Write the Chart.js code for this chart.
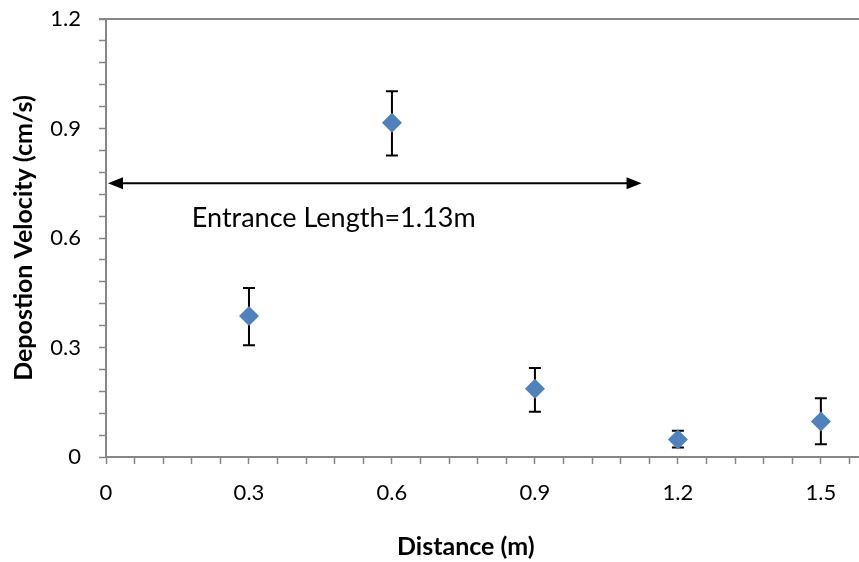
<!DOCTYPE html>
<html>
<head>
<meta charset="utf-8">
<script src="https://cdn.jsdelivr.net/npm/chart.js@4"></script>
<style>
  html, body { margin: 0; padding: 0; background: #fff; }
  #wrap { width: 859px; height: 562px; }
</style>
</head>
<body>
<div id="wrap"><canvas id="depChart"></canvas></div>
<script>
// data
const distances = [0.3, 0.6, 0.9, 1.2, 1.5];
const velocity = [0.386, 0.916, 0.187, 0.048, 0.097];
const errUpper = [0.463, 1.002, 0.244, 0.072, 0.161];
const errLower = [0.306, 0.826, 0.124, 0.026, 0.035];

const xMajorTicks = [0, 0.3, 0.6, 0.9, 1.2, 1.5];
const yMajorTicks = [0, 0.3, 0.6, 0.9, 1.2];
const minorStep = 0.06;

const entranceLength = 1.13;
const arrowLevel = 0.75;
const noteText = 'Entrance Length=1.13m';
const xTitle = 'Distance (m)';

const axisGrey = '#868686';
const fontName = 'Lato';

function isMajor(v, majors) {
  return majors.some(m => Math.abs(m - v) < 1e-6);
}
function minorTicks(limit) {
  const out = [];
  for (let i = 0; i * minorStep <= limit + 1e-9; i++) out.push({ value: +(i * minorStep).toFixed(2) });
  return out;
}

const extras = {
  id: 'extras',
  beforeDatasetsDraw(chart) {
    const { ctx, scales: { x, y } } = chart;
    ctx.save();
    ctx.strokeStyle = '#000';
    ctx.lineWidth = 2;
    distances.forEach((d, i) => {
      const px = x.getPixelForValue(d);
      const top = y.getPixelForValue(errUpper[i]);
      const bot = y.getPixelForValue(errLower[i]);
      ctx.beginPath();
      ctx.moveTo(px, top); ctx.lineTo(px, bot);
      ctx.moveTo(px - 6, top); ctx.lineTo(px + 6, top);
      ctx.moveTo(px - 6, bot); ctx.lineTo(px + 6, bot);
      ctx.stroke();
    });
    ctx.restore();
  },
  afterDraw(chart) {
    const { ctx, chartArea, scales: { x, y } } = chart;
    ctx.save();
    // top border of plot area
    ctx.strokeStyle = axisGrey;
    ctx.lineWidth = 2;
    const ty = y.getPixelForValue(1.2);
    ctx.beginPath();
    ctx.moveTo(chartArea.left - 7, ty);
    ctx.lineTo(chartArea.right, ty);
    ctx.stroke();

    // double-headed arrow
    const x0 = x.getPixelForValue(0) + 2;
    const x1 = x.getPixelForValue(entranceLength) - 3;
    const ay = y.getPixelForValue(arrowLevel);
    ctx.strokeStyle = '#000';
    ctx.fillStyle = '#000';
    ctx.lineWidth = 2;
    ctx.beginPath();
    ctx.moveTo(x0 + 10, ay); ctx.lineTo(x1 - 10, ay);
    ctx.stroke();
    ctx.beginPath();
    ctx.moveTo(x0, ay); ctx.lineTo(x0 + 15, ay - 6); ctx.lineTo(x0 + 15, ay + 6); ctx.closePath();
    ctx.fill();
    ctx.beginPath();
    ctx.moveTo(x1, ay); ctx.lineTo(x1 - 15, ay - 6); ctx.lineTo(x1 - 15, ay + 6); ctx.closePath();
    ctx.fill();

    ctx.textBaseline = 'middle';
    ctx.textAlign = 'left';
    ctx.font = '27px ' + fontName;
    ctx.fillText(noteText, x.getPixelForValue(0.18), y.getPixelForValue(0.655));

    // x axis title, centred as in the original
    ctx.textAlign = 'center';
    ctx.font = 'bold 25px ' + fontName;
    ctx.fillText(xTitle, x.getPixelForValue(0.755), chart.height - 15);
    ctx.restore();
  }
};

new Chart(document.getElementById('depChart'), {
  type: 'scatter',
  data: {
    datasets: [{
      label: 'Deposition velocity',
      data: distances.map((d, i) => ({ x: d, y: velocity[i] })),
      pointStyle: 'rectRot',
      pointRadius: 10,
      pointHoverRadius: 10,
      backgroundColor: '#4F81BD',
      borderColor: '#4F81BD',
      borderWidth: 0
    }]
  },
  options: {
    responsive: true,
    maintainAspectRatio: false,
    animation: false,
    layout: { autoPadding: false, padding: { top: 19, right: 0, bottom: 0, left: 2 } },
    plugins: { legend: { display: false }, tooltip: { enabled: false } },
    scales: {
      x: {
        type: 'linear',
        min: 0,
        max: 1.58,
        afterBuildTicks: s => { s.ticks = minorTicks(1.58); },
        afterFit: s => { s.height = 105; s.paddingLeft = 0; s.paddingRight = 0; },
        grid: { drawOnChartArea: false, tickLength: 7, tickColor: axisGrey, tickWidth: 1.5 },
        border: { color: axisGrey, width: 2 },
        ticks: {
          autoSkip: false,
          maxRotation: 0,
          padding: 16,
          color: '#000',
          font: { family: fontName, size: 22 },
          callback: v => isMajor(v, xMajorTicks) ? String(+v.toFixed(1)) : ''
        }
      },
      y: {
        type: 'linear',
        min: 0,
        max: 1.2,
        afterBuildTicks: s => { s.ticks = minorTicks(1.2); },
        afterFit: s => { s.width = 104; s.paddingTop = 0; s.paddingBottom = 0; },
        grid: { drawOnChartArea: false, tickLength: 7, tickColor: axisGrey, tickWidth: 1.5 },
        border: { color: axisGrey, width: 2 },
        ticks: {
          autoSkip: false,
          padding: 18,
          color: '#000',
          font: { family: fontName, size: 22 },
          callback: v => isMajor(v, yMajorTicks) ? String(+v.toFixed(1)) : ''
        },
        title: {
          display: true,
          text: 'Depostion Velocity (cm/s)',
          color: '#000',
          font: { family: fontName, size: 25, weight: 'bold' },
          padding: { top: 7, bottom: 0 }
        }
      }
    }
  },
  plugins: [extras]
});
</script>
</body>
</html>
